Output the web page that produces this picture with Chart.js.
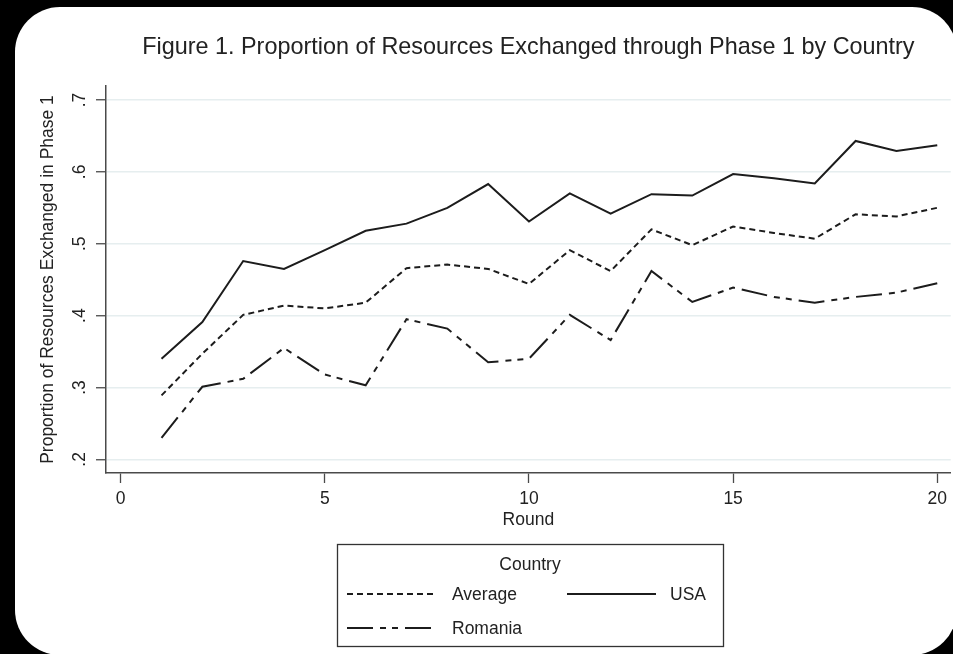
<!DOCTYPE html>
<html>
<head>
<meta charset="utf-8">
<title>Proportion of Resources Exchanged through Phase 1 by Country</title>
<script src="https://cdn.jsdelivr.net/npm/chart.js@4.4.1/dist/chart.umd.min.js"></script>
<style>
  html, body { margin: 0; padding: 0; background: #000; overflow: hidden; }
  canvas { display: block; }
</style>
</head>
<body>
<canvas id="chart" width="953" height="654"></canvas>
<script>
// Round numbers on the horizontal axis
const rounds = [1, 2, 3, 4, 5, 6, 7, 8, 9, 10, 11, 12, 13, 14, 15, 16, 17, 18, 19, 20];

// Share of resources exchanged in phase 1, per round
const average = [0.289, 0.347, 0.401, 0.414, 0.410, 0.418, 0.466, 0.471, 0.465, 0.444,
                 0.491, 0.462, 0.520, 0.498, 0.524, 0.515, 0.507, 0.541, 0.538, 0.550];
const usa     = [0.340, 0.391, 0.476, 0.465, 0.491, 0.518, 0.528, 0.550, 0.583, 0.531,
                 0.570, 0.542, 0.569, 0.567, 0.597, 0.591, 0.584, 0.643, 0.629, 0.637];
const romania = [0.230, 0.301, 0.312, 0.355, 0.318, 0.303, 0.395, 0.382, 0.335, 0.340,
                 0.401, 0.366, 0.462, 0.419, 0.439, 0.426, 0.418, 0.426, 0.432, 0.445];

const seriesNames = ['Average', 'USA', 'Romania'];
const xTicks = [0, 5, 10, 15, 20];
const yTicks = [0.2, 0.3, 0.4, 0.5, 0.6, 0.7];

const chartTitle = 'Figure 1. Proportion of Resources Exchanged through Phase 1 by Country';
const xTitle = 'Round';
const yTitle = 'Proportion of Resources Exchanged in Phase 1';
const legendTitle = 'Country';

const FAMILY = '"Liberation Sans", Arial, Helvetica, sans-serif';
const INK = '#222222';
const LINE = '#1c1c1c';
const AXIS = '#4a4a4a';

const toPoints = vals => rounds.map((r, i) => ({ x: r, y: vals[i] }));
const yLabel = v => v.toFixed(1).replace(/^0/, '');

// Black page with the white rounded card behind the graph
const cardPlugin = {
  id: 'card',
  beforeDraw(chart) {
    const ctx = chart.ctx;
    ctx.save();
    ctx.fillStyle = '#000';
    ctx.fillRect(0, 0, chart.width, chart.height);
    ctx.fillStyle = '#fff';
    ctx.beginPath();
    ctx.roundRect(15, 7, 942, 648, 45);
    ctx.fill();
    ctx.restore();
  }
};

// Title, vertical y tick labels and the boxed legend
const decorPlugin = {
  id: 'decor',
  afterDraw(chart) {
    const ctx = chart.ctx;
    const area = chart.chartArea;
    ctx.save();
    ctx.fillStyle = INK;

    // chart title centred over the plot region
    ctx.font = '23.4px ' + FAMILY;
    ctx.textAlign = 'center';
    ctx.textBaseline = 'middle';
    ctx.fillText(chartTitle, (area.left + area.right) / 2, 48);

    // y tick labels, rotated to read bottom-to-top
    ctx.font = '17.5px ' + FAMILY;
    const ys = chart.scales.y;
    yTicks.forEach(v => {
      const py = ys.getPixelForValue(v);
      ctx.save();
      ctx.translate(80, py);
      ctx.rotate(-Math.PI / 2);
      ctx.textAlign = 'center';
      ctx.textBaseline = 'middle';
      ctx.fillText(yLabel(v), 0, 0);
      ctx.restore();
    });

    // legend box
    const box = { x: 337, y: 544, w: 386, h: 102 };
    ctx.strokeStyle = '#333';
    ctx.lineWidth = 1.3;
    ctx.strokeRect(box.x + 0.5, box.y + 0.5, box.w, box.h);
    ctx.textAlign = 'center';
    ctx.fillText(legendTitle, box.x + box.w / 2, 565);

    chart.data.datasets.forEach((ds, i) => {
      const col = i % 2;
      const row = Math.floor(i / 2);
      const x0 = col ? 567 : 347;
      const y = 594 + row * 34;
      ctx.save();
      ctx.strokeStyle = ds.borderColor;
      ctx.lineWidth = ds.borderWidth;
      ctx.setLineDash(ds.borderDash || []);
      ctx.beginPath();
      ctx.moveTo(x0, y);
      ctx.lineTo(x0 + 89, y);
      ctx.stroke();
      ctx.restore();
      ctx.textAlign = 'left';
      ctx.textBaseline = 'middle';
      ctx.fillText(ds.label, col ? 670 : 452, y + 1);
    });
    ctx.restore();
  }
};

const series = [
  { label: seriesNames[0], values: average, dash: [6, 4] },
  { label: seriesNames[1], values: usa,     dash: [] },
  { label: seriesNames[2], values: romania, dash: [26, 7, 6, 6, 6, 7] }
];

new Chart(document.getElementById('chart'), {
  type: 'line',
  data: {
    datasets: series.map(s => ({
      label: s.label,
      data: toPoints(s.values),
      borderColor: LINE,
      borderWidth: 2,
      borderDash: s.dash,
      pointRadius: 0,
      tension: 0,
      fill: false
    }))
  },
  options: {
    responsive: false,
    animation: false,
    devicePixelRatio: 1,
    layout: { padding: { top: 86, left: 0, right: 1, bottom: 0 } },
    plugins: {
      legend: { display: false },
      title: { display: false },
      tooltip: { enabled: false }
    },
    scales: {
      x: {
        type: 'linear',
        min: -0.36,
        max: 20.33,
        afterBuildTicks: s => { s.ticks = xTicks.map(v => ({ value: v })); },
        afterFit: s => { s.height = 181; },
        grid: { drawOnChartArea: false, drawTicks: true, tickLength: 10, tickColor: AXIS, tickWidth: 1.3 },
        border: { color: AXIS, width: 1.5 },
        ticks: { font: { family: FAMILY, size: 17.5 }, color: INK, padding: 6, maxRotation: 0, autoSkip: false },
        title: { display: true, text: xTitle, font: { family: FAMILY, size: 17.5 }, color: INK, padding: { top: 0, bottom: 123.5 } }
      },
      y: {
        type: 'linear',
        min: 0.181,
        max: 0.7195,
        afterBuildTicks: s => { s.ticks = yTicks.map(v => ({ value: v })); },
        afterFit: s => { s.width = 106; },
        grid: { color: '#e6eeef', lineWidth: 1.5, drawTicks: true, tickLength: 10, tickColor: AXIS, tickWidth: 1.3 },
        border: { color: AXIS, width: 1.5 },
        ticks: { display: false },
        title: { display: true, text: yTitle, font: { family: FAMILY, size: 17.5 }, color: INK, padding: { top: 37.5, bottom: 0 } }
      }
    }
  },
  plugins: [cardPlugin, decorPlugin]
});
</script>
</body>
</html>
